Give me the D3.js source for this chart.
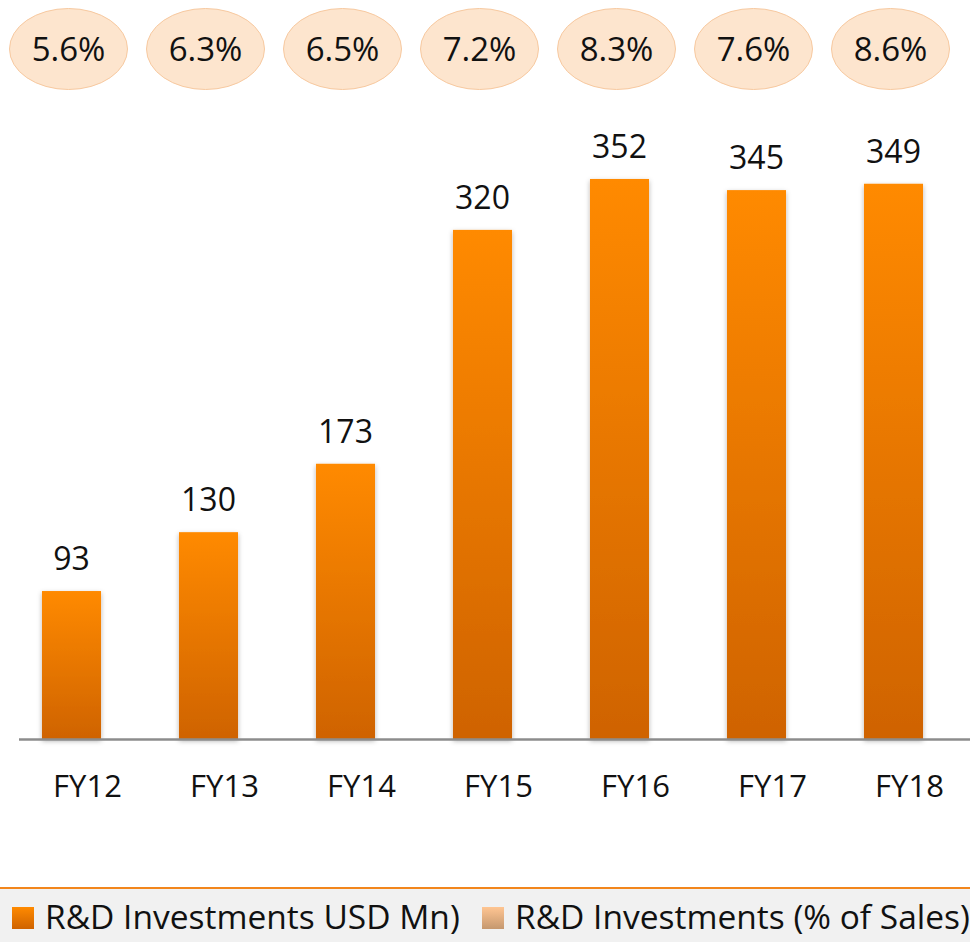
<!DOCTYPE html>
<html>
<head>
<meta charset="utf-8">
<script src="https://cdn.jsdelivr.net/npm/d3@7"></script>
<style>
  html, body { margin: 0; padding: 0; background: #ffffff; }
  svg { display: block; }
  text { font-family: "Open Sans", "Noto Sans", sans-serif; fill: #111; }
</style>
</head>
<body>
<svg id="chart" width="970" height="942"></svg>
<script>
// Fiscal years on the category axis
const years = ["FY12", "FY13", "FY14", "FY15", "FY16", "FY17", "FY18"];
// R&D investment in USD million
const rdUsdMn = [93, 130, 173, 320, 352, 345, 349];
// R&D investment as a share of sales (%)
const rdPctSales = [5.6, 6.3, 6.5, 7.2, 8.3, 7.6, 8.6];
// Legend entries
const legendLabels = ["R&D Investments USD Mn)", "R&D Investments (% of Sales)"];

const W = 970, H = 942;
const baseY = 739;

const svg = d3.select("#chart");
const defs = svg.append("defs");

// vertical orange gradient for bars
const barGrad = defs.append("linearGradient")
  .attr("id", "barGrad").attr("x1", 0).attr("y1", 0).attr("x2", 0).attr("y2", 1);
barGrad.append("stop").attr("offset", "0%").attr("stop-color", "#ff8a00");
barGrad.append("stop").attr("offset", "100%").attr("stop-color", "#cf6300");

// peach/tan gradient for the percent legend swatch
const pctGrad = defs.append("linearGradient")
  .attr("id", "pctGrad").attr("x1", 0).attr("y1", 0).attr("x2", 0).attr("y2", 1);
pctGrad.append("stop").attr("offset", "0%").attr("stop-color", "#ffc592");
pctGrad.append("stop").attr("offset", "100%").attr("stop-color", "#c5986f");

// soft outer shadow on bars
const shadow = defs.append("filter").attr("id", "barShadow")
  .attr("x", "-30%").attr("y", "-10%").attr("width", "160%").attr("height", "120%");
shadow.append("feDropShadow")
  .attr("dx", 0).attr("dy", 2).attr("stdDeviation", 2.5)
  .attr("flood-color", "#000").attr("flood-opacity", 0.3);

// scales
const x = d3.scaleBand()
  .domain(years)
  .range([3, 962])
  .paddingInner(0.569)
  .paddingOuter(0.2845);

const y = d3.scaleLinear()
  .domain([0, 400])
  .range([baseY, baseY - 400 * 1.591]);

const rows = years.map((yr, i) => ({ yr, v: rdUsdMn[i], p: rdPctSales[i] }));

// bars
svg.append("g").selectAll("rect")
  .data(rows)
  .join("rect")
  .attr("x", d => x(d.yr))
  .attr("y", d => y(d.v))
  .attr("width", x.bandwidth())
  .attr("height", d => y(0) - y(d.v))
  .attr("fill", "url(#barGrad)")
  .attr("filter", "url(#barShadow)");

// baseline
svg.append("line")
  .attr("x1", 19).attr("x2", W)
  .attr("y1", baseY + 0.5).attr("y2", baseY + 0.5)
  .attr("stroke", "#8c8c8c").attr("stroke-width", 2.5);

// value labels above bars
svg.append("g").selectAll("text")
  .data(rows)
  .join("text")
  .attr("x", d => x(d.yr) + x.bandwidth() / 2)
  .attr("y", d => y(d.v) - 21)
  .attr("text-anchor", "middle")
  .style("font-size", "32px")
  .text(d => d3.format("d")(d.v));

// category labels
const xAxis = d3.axisBottom(x).tickSize(0).tickPadding(0);
const axisG = svg.append("g")
  .attr("transform", `translate(16, ${baseY})`)
  .call(xAxis);
axisG.select(".domain").remove();
axisG.selectAll("text")
  .attr("y", 58)
  .attr("dy", null)
  .style("font-size", "31px")
  .style("font-family", "\"Open Sans\", sans-serif")
  .attr("fill", "#111");

// percent-of-sales bubbles
const bubbles = svg.append("g").selectAll("g")
  .data(rows)
  .join("g")
  .attr("transform", d => `translate(${x(d.yr) + x.bandwidth() / 2 - 3}, 49)`);
bubbles.append("ellipse")
  .attr("rx", 59).attr("ry", 40.5)
  .attr("fill", "#fde5ce")
  .attr("stroke", "#f7c9a0").attr("stroke-width", 1);
bubbles.append("text")
  .attr("text-anchor", "middle")
  .attr("y", 12)
  .style("font-size", "33px")
  .text(d => d.p.toFixed(1) + "%");

// legend strip
svg.append("rect")
  .attr("x", 0).attr("y", 889).attr("width", W).attr("height", H - 889)
  .attr("fill", "#f1f1f1");
svg.append("line")
  .attr("x1", 0).attr("x2", W).attr("y1", 888).attr("y2", 888)
  .attr("stroke", "#f2861c").attr("stroke-width", 2);

const legendItems = [
  { label: legendLabels[0], fill: "url(#barGrad)", sx: 12, tx: 45 },
  { label: legendLabels[1], fill: "url(#pctGrad)", sx: 482, tx: 515 }
];
const lg = svg.append("g").selectAll("g").data(legendItems).join("g");
lg.append("rect")
  .attr("x", d => d.sx).attr("y", 907)
  .attr("width", 22).attr("height", 22)
  .attr("fill", d => d.fill);
lg.append("text")
  .attr("x", d => d.tx).attr("y", 929)
  .style("font-size", "33.5px")
  .text(d => d.label);
</script>
</body>
</html>
